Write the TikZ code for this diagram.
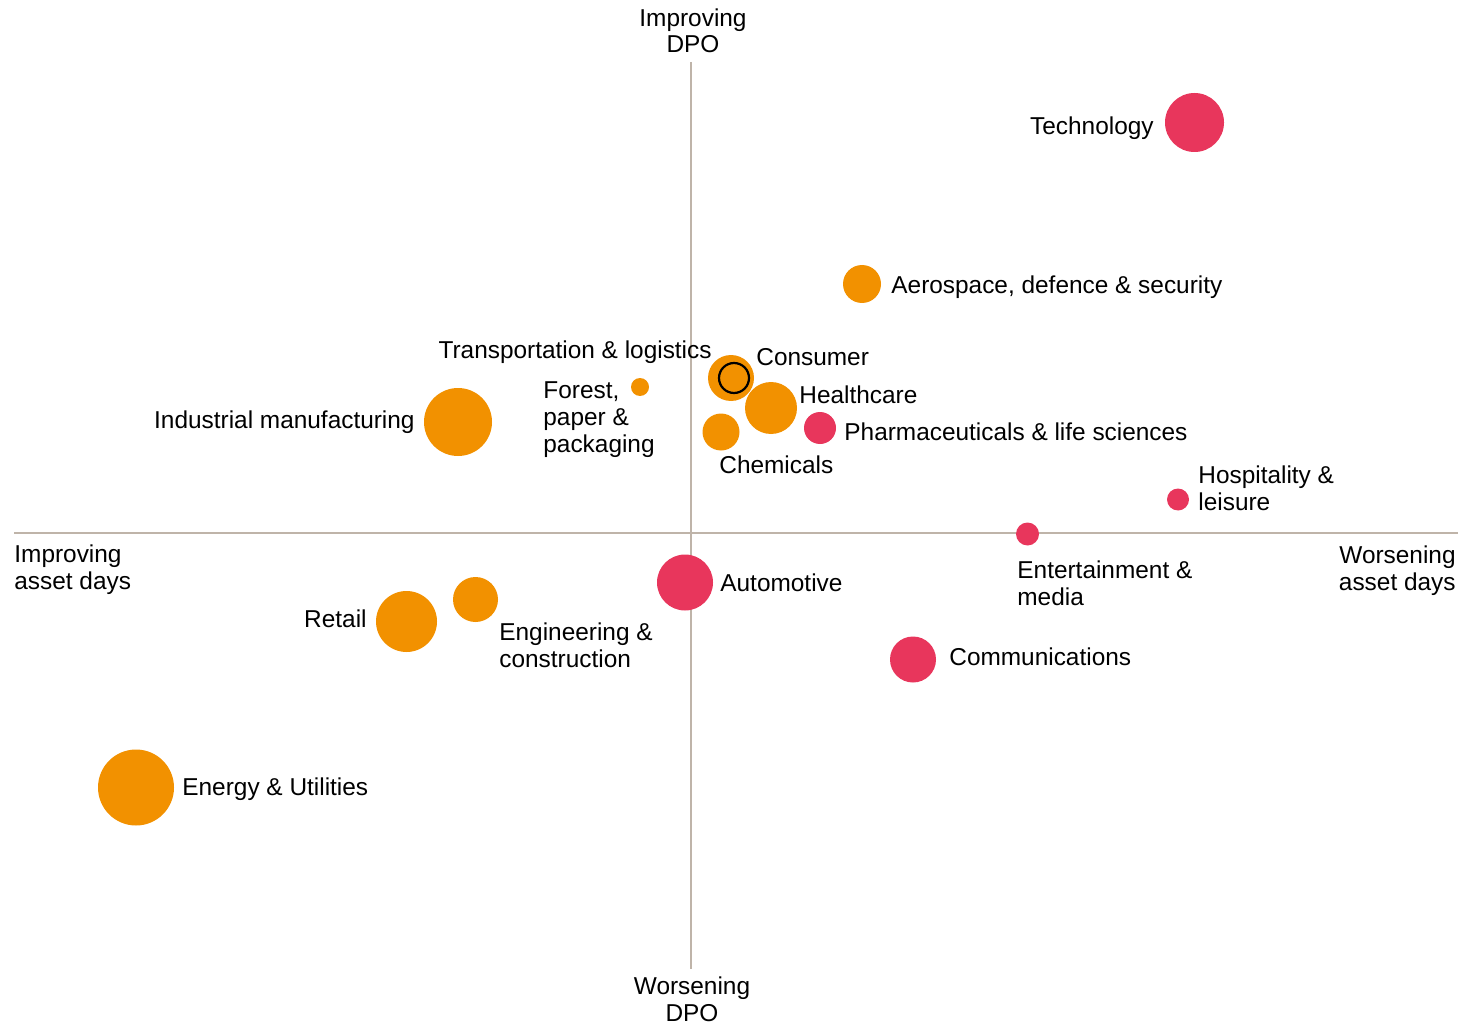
\documentclass[tikz,border=0pt]{standalone}
\usepackage{fontspec}
\setmainfont{Liberation Sans}
\definecolor{pwcorange}{HTML}{F29100}
\definecolor{pwcrose}{HTML}{E8365C}
\definecolor{axisgrey}{HTML}{BFB4A9}
\tikzset{bub/.style={circle,fill=#1,draw=none,inner sep=0pt},
  obub/.style={bub=pwcorange,minimum size=#1},
  rbub/.style={bub=pwcrose,minimum size=#1},
  lab/.style={inner sep=0pt,align=left,font=\fontsize{12.2}{13.4}\selectfont},
  axislab/.style={lab,align=center}}

\begin{document}
\begin{tikzpicture}[x=0.5pt,y=-0.5pt]
    \useasboundingbox (0,0) rectangle (1478,1027);

    % axes
    \coordinate (top) at (691,62);
    \coordinate (bottom) at (691,969);
    \coordinate (left) at (14,533);
    \coordinate (right) at (1458,533);
    \draw [axisgrey,line width=0.75pt] (top) -- (bottom);
    \draw [axisgrey,line width=0.75pt] (left) -- (right);

    % multi-line labels sit on their last baseline
    \node[axislab,anchor=base] (ydpo) at (693,53) {Improving\\DPO};
    \node[axislab,anchor=base] (wdpo) at (692,1021.5) {Worsening\\DPO};
    \node[lab,anchor=base west] (iasset) at (14,589) {Improving\\asset days};
    \node[lab,align=right,anchor=base east] (wasset) at (1456,590) {Worsening\\asset days};

    % bubbles
    \node[rbub=29.5pt] (tech) at (1194.5,122.5) {};
    \node[obub=19pt] (aero) at (862,284) {};
    \node[obub=23pt] (cons) at (731,378) {};
    \node[circle,draw=black,line width=1.1pt,minimum size=15pt,inner sep=0pt] (trans) at (734,378) {};
    \node[obub=26pt] (health) at (771,408) {};
    \node[rbub=16pt] (pharma) at (820,428) {};
    \node[obub=18.5pt] (chem) at (721,432) {};
    \node[obub=9pt] (forest) at (640,387) {};
    \node[obub=34pt] (indus) at (458,422) {};
    \node[rbub=11pt] (hosp) at (1178,499.5) {};
    \node[rbub=11.5pt] (ent) at (1027.5,534) {};
    \node[rbub=28pt] (auto) at (685,582.5) {};
    \node[rbub=23pt] (comm) at (913,659.5) {};
    \node[obub=30.5pt] (retail) at (406.5,621.5) {};
    \node[obub=22.5pt] (eng) at (475.5,599.5) {};
    \node[obub=38pt] (energy) at (136,787.5) {};

    % labels
    \node[lab,anchor=base east] (techlab) at (1154,135) {Technology};
    \node[lab,anchor=base west] (aerolab) at (891,293) {Aerospace, defence \& security};
    \node[lab,anchor=base east] (translab) at (712,358) {Transportation \& logistics};
    \node[lab,anchor=base west] (conslab) at (756,365.7) {Consumer};
    \node[lab,anchor=base west] (forestlab) at (543,452) {Forest,\\paper \&\\packaging};
    \node[lab,anchor=base west] (healthlab) at (799,403) {Healthcare};
    \node[lab,anchor=base west] (pharmalab) at (844,440) {Pharmaceuticals \& life sciences};
    \node[lab,anchor=base west] (chemlab) at (719,473) {Chemicals};
    \node[lab,anchor=base east] (induslab) at (415,428) {Industrial manufacturing};
    \node[lab,anchor=base west] (hosplab) at (1198,510.7) {Hospitality \&\\leisure};
    \node[lab,anchor=base west] (entlab) at (1017,605) {Entertainment \&\\media};
    \node[lab,anchor=base west] (autolab) at (720,591) {Automotive};
    \node[lab,anchor=base west] (commlab) at (949,665.7) {Communications};
    \node[lab,anchor=base east] (retaillab) at (367,627) {Retail};
    \node[lab,anchor=base west] (englab) at (499,667) {Engineering \&\\construction};
    \node[lab,anchor=base west] (energylab) at (182,795) {Energy \& Utilities};
\end{tikzpicture}
\end{document}
